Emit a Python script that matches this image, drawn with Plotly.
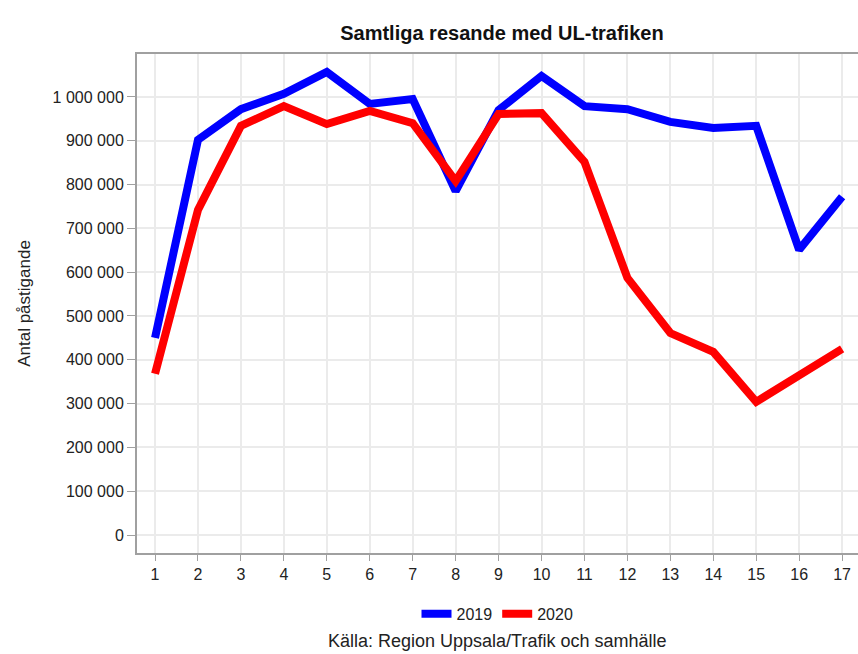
import plotly.graph_objects as go

# Veckor och antal påstigande
veckor = list(range(1, 18))
resande_2019 = [450000, 902000, 972000, 1007000, 1057000, 984000, 995000, 785000, 970000,
                1048000, 979000, 972000, 943000, 929000, 934000, 651000, 772000]
resande_2020 = [368000, 742000, 934000, 979000, 938000, 968000, 940000, 808000, 961000,
                963000, 852000, 587000, 461000, 418000, 304000, 362000, 425000]

FONT = 'Liberation Sans, Arial, sans-serif'

fig = go.Figure()
fig.add_trace(go.Scatter(x=veckor, y=resande_2019, mode='lines', name='2019',
                         line=dict(color='#0000ff', width=8)))
fig.add_trace(go.Scatter(x=veckor, y=resande_2020, mode='lines', name='2020',
                         line=dict(color='#ff0000', width=8)))

fig.update_layout(
    width=858, height=654,
    margin=dict(l=137, r=0, t=54, b=101),
    paper_bgcolor='white', plot_bgcolor='white',
    font=dict(family=FONT, size=16, color='#222'),
    separators=', ',
    title=dict(text='<b>Samtliga resande med UL-trafiken</b>', x=0.585, xanchor='center',
               y=0.95, yanchor='middle', font=dict(size=20, color='#111')),
    showlegend=True,
    legend=dict(orientation='h', x=0.5, xanchor='center', y=-0.122, yanchor='middle',
                font=dict(size=16), itemwidth=30),
    annotations=[dict(text='Källa: Region Uppsala/Trafik och samhälle', xref='paper', yref='paper',
                      x=0.5, y=-0.176, xanchor='center', yanchor='middle', showarrow=False,
                      font=dict(size=18, color='#222'))],
)

fig.update_xaxes(range=[0.58, 17.37], tickvals=veckor, showgrid=True, gridcolor='#ebebeb',
                 gridwidth=2, zeroline=False, showline=True, linecolor='#a0a0a0', linewidth=2,
                 mirror=True, ticks='outside', ticklen=6, tickcolor='#a0a0a0', automargin=False)
fig.update_yaxes(range=[-41000, 1098000], tickvals=list(range(0, 1000001, 100000)),
                 tickformat=',d', showgrid=True, gridcolor='#ebebeb', gridwidth=2, zeroline=False,
                 showline=True, linecolor='#a0a0a0', linewidth=2, mirror=False,
                 ticks='outside', ticklen=8, tickcolor='#a0a0a0', automargin=False,
                 title=dict(text='Antal påstigande', standoff=18, font=dict(size=17)))

fig.write_html('out.html', config={'displayModeBar': False},
               post_script="document.body.style.margin='0';")
